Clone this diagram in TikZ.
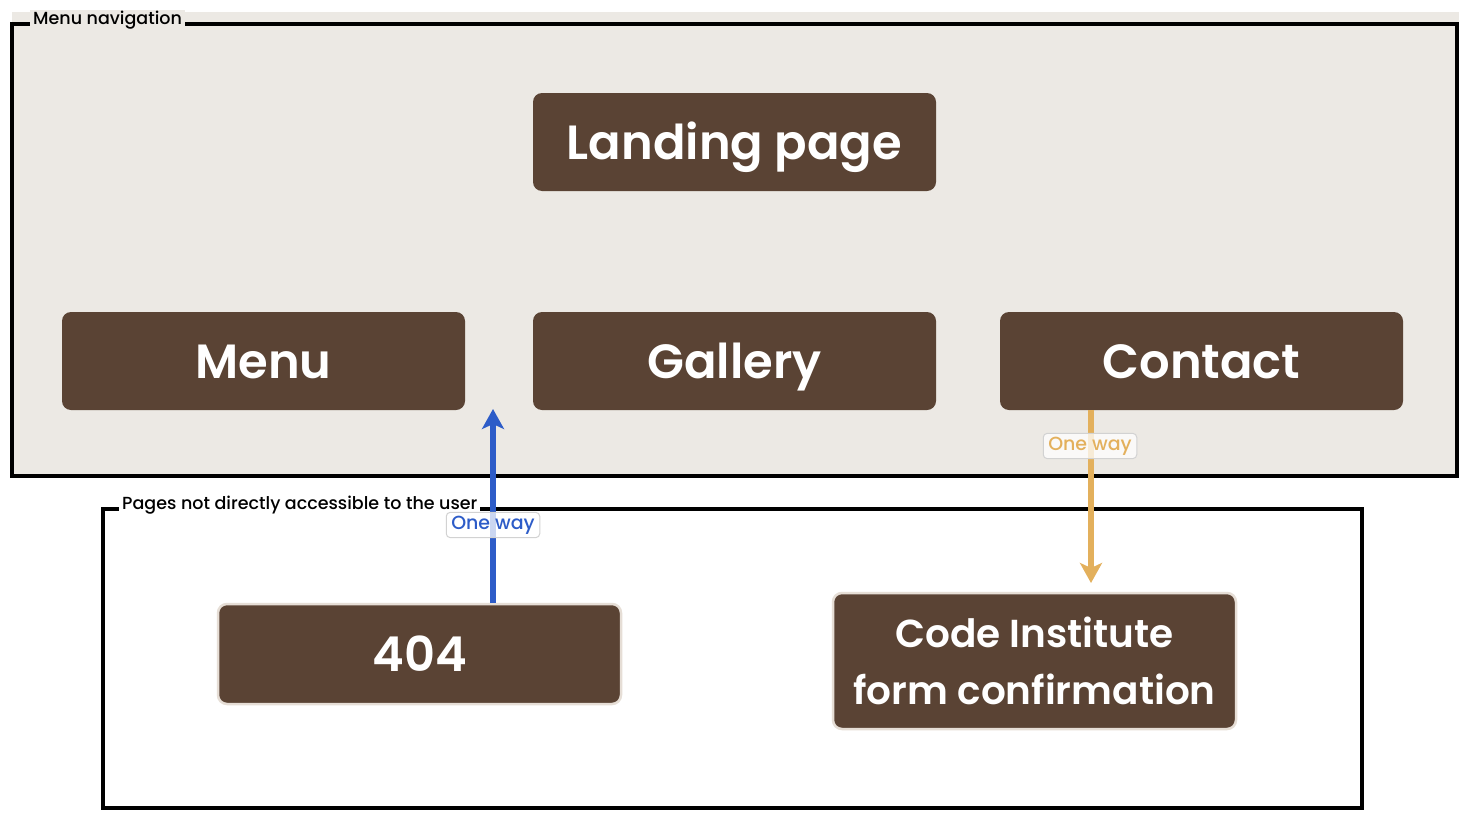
\documentclass[tikz,border=0pt]{standalone}
\usepackage{fontspec}
\setmainfont{Poppins}
\newfontfamily\semifont{Poppins SemiBold}
\newfontfamily\medfont{Poppins Medium}
\usetikzlibrary{arrows.meta}
\definecolor{navbg}{HTML}{ECE9E4}
\definecolor{brown}{HTML}{5A4334}
\definecolor{lightedge}{HTML}{E6DED6}
\definecolor{oneblue}{HTML}{2D5CC8}
\definecolor{oneorange}{HTML}{E3B05C}
\tikzset{
  pagebox/.style={fill=brown, text=white, rounded corners=9pt, inner sep=0pt,
    minimum width=403pt, minimum height=98pt, font=\fontsize{48}{56}\semifont,
    text height=34pt, text depth=0pt},
  hiddenbox/.style={pagebox, draw=lightedge, line width=2.5pt},
  frameline/.style={draw=black, line width=3.5pt},
  framelabel/.style={font=\fontsize{17.5}{20}\medfont, inner xsep=3pt, inner ysep=1pt},
  wayarrow/.style={line width=5.5pt, -{Stealth[length=20pt,width=22pt,inset=5pt]}},
  waylabel/.style={font=\fontsize{19}{22}\medfont, fill=white, fill opacity=0.75, text opacity=1,
    draw=gray!35, line width=1pt, rounded corners=4pt, inner xsep=5pt, inner ysep=3.5pt}
}
\begin{document}
\begin{tikzpicture}[x=1pt,y=-1pt]
\useasboundingbox (0,0) rectangle (1470,819);
\fill[white] (0,0) rectangle (1470,819);
% Menu navigation frame
\fill[navbg] (12,12) rectangle (1459,476);
\draw[frameline] (12,24) rectangle (1457,476);
\node[framelabel, fill=navbg, anchor=west] (navlabel) at (30,20) {Menu navigation};
% hidden pages frame
\draw[frameline, fill=white] (103,509) rectangle (1362,808);
\node[framelabel, fill=white, anchor=west] (hidlabel) at (119,505) {Pages not directly accessible to the user};
% pages
\node[pagebox] (landing) at (734.5,142) {Landing page};
\node[pagebox] (menu) at (263.5,361) {Menu};
\node[pagebox] (gallery) at (734.5,361) {Gallery};
\node[pagebox] (contact) at (1201.5,361) {Contact};
\node[hiddenbox, minimum height=100pt] (notfound) at (419.5,654) {404};
\node[hiddenbox, minimum height=136pt, align=center, text height=, text depth=,
  font=\fontsize{39}{57}\semifont] (codeinst) at (1034.5,661) {Code Institute\\form confirmation};
% arrows
\coordinate (bluetip) at (493,409);
\coordinate (orangetip) at (1091,583);
\draw[wayarrow, oneblue] (notfound.north -| bluetip) -- (bluetip);
\draw[wayarrow, oneorange] (contact.south -| orangetip) -- (orangetip);
\node[waylabel, text=oneblue] (bluelabel) at (493,525) {One way};
\node[waylabel, text=oneorange] (orangelabel) at (1090,446) {One way};
\end{tikzpicture}
\end{document}
